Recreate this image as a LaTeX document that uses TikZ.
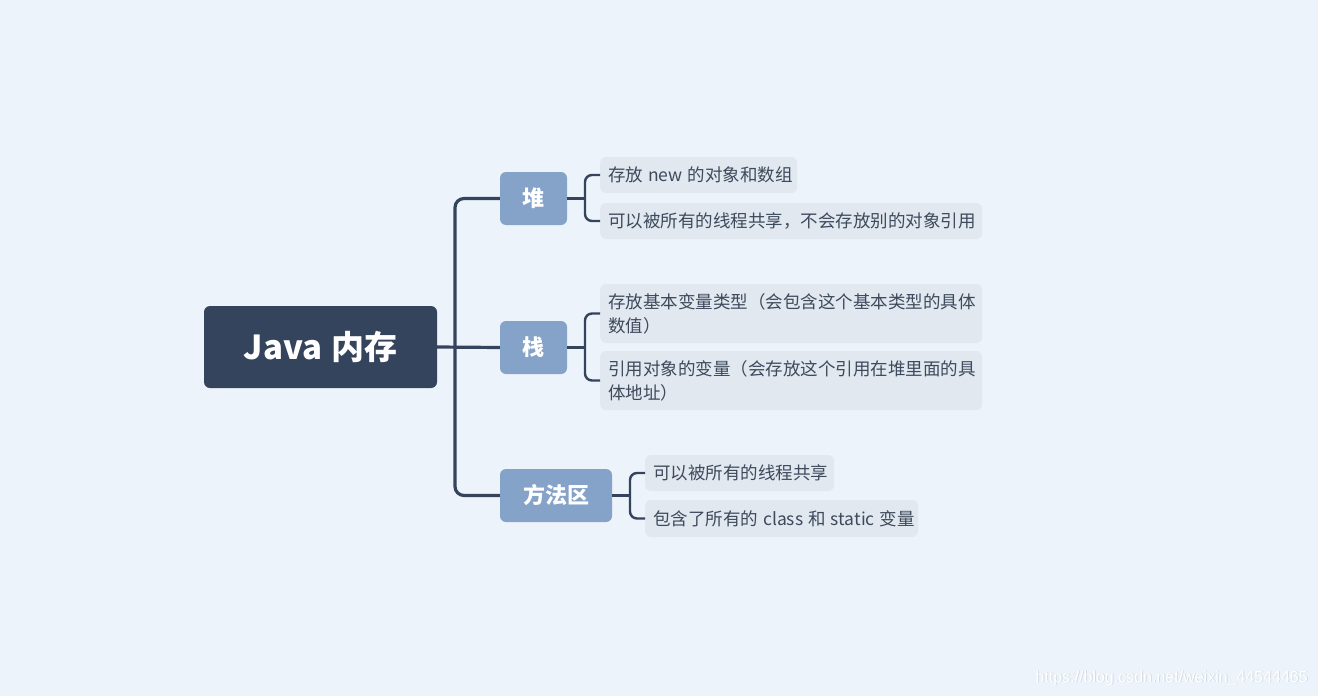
\documentclass[tikz,border=0pt]{standalone}
\usepackage{fontspec}
\setmainfont{Noto Sans CJK SC}
\newfontfamily\wmfont{Liberation Sans}
\usetikzlibrary{calc}
\newcommand{\gapsp}{\hspace{5pt}}
\definecolor{bgc}{HTML}{ECF3FA}
\definecolor{rootc}{HTML}{34445C}
\definecolor{lonec}{HTML}{85A2C8}
\definecolor{ltwoc}{HTML}{E1E8F0}
\definecolor{txtc}{HTML}{3D4A5C}
\definecolor{wmc}{HTML}{FFFFFF}
\definecolor{wmshadow}{HTML}{D3DBE3}
\tikzset{
  rootbox/.style={fill=rootc, rounded corners=6pt, text=white, inner sep=0pt,
    minimum width=233pt, minimum height=82pt, font=\fontsize{33}{38}\selectfont\bfseries},
  onebox/.style={fill=lonec, rounded corners=6pt, text=white, inner sep=0pt,
    minimum height=53pt, font=\fontsize{22}{26}\selectfont\bfseries},
  twobox/.style={fill=ltwoc, rounded corners=6pt, text=txtc, anchor=west,
    inner xsep=8pt, inner ysep=0pt, align=left,
    font=\fontsize{17.5}{24}\selectfont},
  trunk/.style={draw=rootc, line width=3.2pt, rounded corners=9pt},
  brack/.style={draw=rootc, line width=2.4pt, rounded corners=7pt},
}
\begin{document}
\begin{tikzpicture}[x=1pt,y=-1pt]
\fill[bgc] (0,0) rectangle (1318,696);
\useasboundingbox (0,0) rectangle (1318,696);

\node[rootbox] (root) at (320.5,347) {Java\hspace{9pt}内存};
\node[onebox, minimum width=67pt] (heap) at (533.5,198.5) {堆};
\node[onebox, minimum width=67pt] (stack) at (533.5,347.5) {栈};
\node[onebox, minimum width=112pt] (meth) at (556,495.5) {方法区};

\node[twobox, text width=181pt, minimum height=36pt] (c1) at (600,175) {\mbox{存放\gapsp new\gapsp 的对象和数组}};
\node[twobox, text width=366pt, minimum height=36pt] (c2) at (600,221) {\mbox{可以被所有的线程共享，不会存放别的对象引用}};
\node[twobox, text width=366pt, minimum height=59pt] (c3) at (600,313.5) {存放基本变量类型（会包含这个基本类型的具体\\数值）};
\node[twobox, text width=366pt, minimum height=59pt] (c4) at (600,380.5) {引用对象的变量（会存放这个引用在堆里面的具\\体地址）};
\node[twobox, text width=173pt, minimum height=36pt] (c5) at (645,473) {\mbox{可以被所有的线程共享}};
\node[twobox, text width=257pt, minimum height=37pt] (c6) at (645,518.5) {\mbox{包含了所有的\gapsp class\gapsp 和\gapsp static\gapsp 变量}};

\coordinate (j) at (455,347);
\draw[trunk] (heap.west) -| (j) |- (meth.west);
\draw[trunk] (root.east) -- (stack.west);

\coordinate (hj) at (585,198.5);
\draw[brack] (c1.west) -| (hj) |- (c2.west);
\draw[brack] (heap.east) -- (hj);
\coordinate (sj) at (585,347.5);
\draw[brack] (c3.west) -| (sj) |- (c4.west);
\draw[brack] (stack.east) -- (sj);
\coordinate (mj) at (630,495.5);
\draw[brack] (c5.west) -| (mj) |- (c6.west);
\draw[brack] (meth.east) -- (mj);

\node[anchor=east, text=wmshadow, font=\wmfont\fontsize{16}{18}\selectfont, inner sep=0pt] (wms) at (1309,678.8) {https://blog.csdn.net/weixin\_44544465};
\node[anchor=east, text=wmc, font=\wmfont\fontsize{16}{18}\selectfont, inner sep=0pt] (wm) at (1308,678) {https://blog.csdn.net/weixin\_44544465};
\end{tikzpicture}
\end{document}
